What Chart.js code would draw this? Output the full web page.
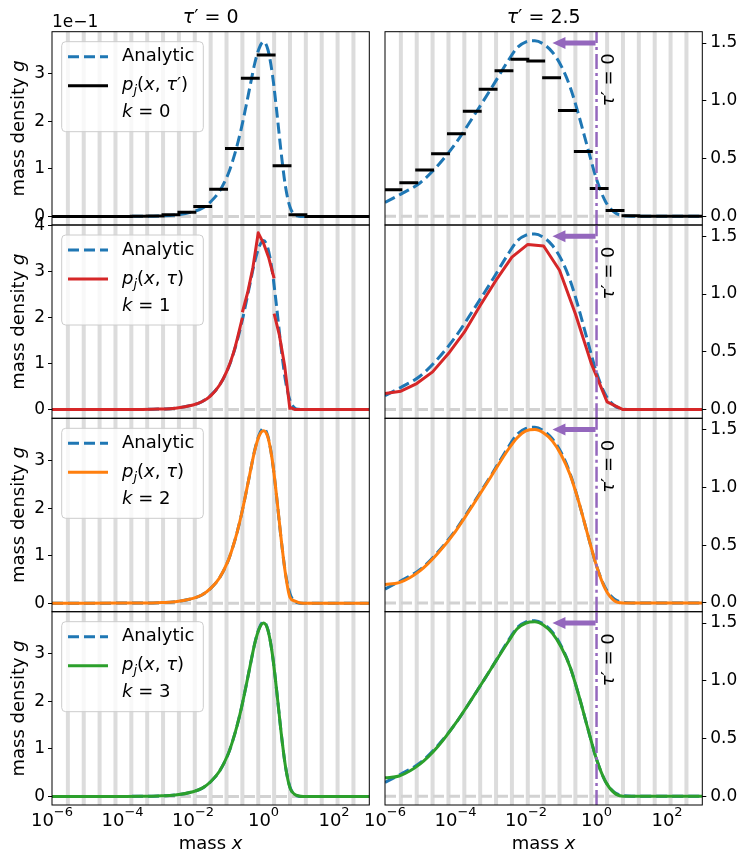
<!DOCTYPE html>
<html>
<head>
<meta charset="utf-8">
<script src="https://cdn.jsdelivr.net/npm/chart.js@4.4.1/dist/chart.umd.min.js"></script>
<style>
  html, body { margin: 0; padding: 0; background: #fff; }
  #wrap { position: relative; width: 748px; height: 863px; }
  #wrap canvas { position: absolute; left: 0; top: 0; }
</style>
</head>
<body>
<div id="wrap"></div>
<script>
// ---- data (x given as log10 of mass) ----
const binEdgeExp = [-6, -5.55, -5.1, -4.65, -4.2, -3.75, -3.3, -2.85, -2.4, -1.95, -1.5,
                    -1.05, -0.6, -0.15, 0.3, 0.75, 1.2, 1.65, 2.1, 2.55, 3];

// tau' = 0 (left column, units of 1e-1)
const binInit = [0, 0, 0, 0, 0.001, 0.003, 0.01, 0.035, 0.09, 0.21, 0.575,
                 1.43, 2.91, 3.40, 1.07, 0.035, 0, 0, 0, 0];
const analyticInitExp = [-6, -5, -4, -3.5, -3, -2.5, -2, -1.75, -1.5, -1.25, -1, -0.875, -0.75, -0.625,
                         -0.5, -0.375, -0.25, -0.125, 0, 0.125, 0.25, 0.375, 0.5, 0.625, 0.75, 0.875,
                         1, 1.125, 1.5, 2, 3];
const analyticInit = [0, 0.0001, 0.001, 0.003, 0.01, 0.03, 0.10, 0.17, 0.31, 0.53, 0.90, 1.17, 1.49, 1.87,
                      2.31, 2.77, 3.22, 3.54, 3.68, 3.51, 3.00, 2.21, 1.34, 0.62, 0.20, 0.04,
                      0.005, 0, 0, 0, 0];
// k = 1, smooth part left of the peak
const k1InitLowExp = [-6, -5, -4, -3.5, -3, -2.5, -2, -1.75, -1.5, -1.25, -1.05, -0.85, -0.6];
const k1InitLow = [0, 0, 0.001, 0.003, 0.01, 0.03, 0.10, 0.17, 0.30, 0.53, 0.82, 1.24, 2.00];
// k = 1, bins around the peak (null = jump at a bin edge)
const k1InitPeakExp = [-0.6, -0.45, -0.3, -0.15, 0, 0.15, 0.3, 0.3, 0.3, 0.45, 0.6, 0.75, 0.75, 0.75, 0.9, 1.2, 3];
const k1InitPeak = [2.12, 2.55, 3.10, 3.85, 3.62, 3.30, 2.86, null, 2.09, 1.62, 0.95, 0.0, null, 0.05, 0.0, 0, 0];
const k2Init = [0, 0, 0.001, 0.003, 0.01, 0.03, 0.10, 0.17, 0.31, 0.53, 0.90, 1.17, 1.49, 1.87,
                2.31, 2.77, 3.21, 3.52, 3.63, 3.49, 3.00, 2.22, 1.35, 0.60, 0.12, 0.05,
                0.01, 0, 0, 0, 0];
const k3Init = [0, 0, 0.001, 0.003, 0.01, 0.03, 0.10, 0.17, 0.31, 0.53, 0.90, 1.17, 1.49, 1.87,
                2.31, 2.77, 3.22, 3.53, 3.65, 3.50, 3.00, 2.21, 1.34, 0.62, 0.18, 0.05,
                0.01, 0, 0, 0, 0];

// tau' = 2.5 (right column)
const binTau = [0.23, 0.29, 0.40, 0.54, 0.715, 0.91, 1.10, 1.26, 1.36, 1.345, 1.20,
                0.915, 0.56, 0.24, 0.05, 0.005, 0, 0, 0, 0];
const tauExp = [-6, -5.5, -5, -4.5, -4, -3.5, -3, -2.5, -2.25, -2, -1.75, -1.5, -1.25, -1,
                -0.75, -0.5, -0.25, 0, 0.25, 0.5, 0.75, 1, 3];
const analyticTau = [0.12, 0.20, 0.29, 0.44, 0.63, 0.86, 1.10, 1.35, 1.46, 1.51, 1.52, 1.49, 1.42, 1.30,
                     1.12, 0.87, 0.59, 0.32, 0.13, 0.035, 0.005, 0, 0];
const k1TauExp = [-6, -5.55, -5.1, -4.65, -4.2, -3.75, -3.3, -2.85, -2.4, -1.95, -1.5,
                  -1.05, -0.6, -0.15, 0.3, 0.75, 3];
const k1Tau = [0.138, 0.159, 0.225, 0.326, 0.485, 0.67, 0.90, 1.12, 1.32, 1.43, 1.416,
               1.206, 0.83, 0.40, 0.066, 0, 0];
const k2TauExp = [-6, -5.6, -5, -4.5, -4, -3.5, -3, -2.5, -2.25, -2, -1.75, -1.5, -1.25, -1,
                  -0.75, -0.5, -0.25, 0, 0.25, 0.5, 0.75, 1, 3];
const k2Tau = [0.16, 0.175, 0.28, 0.43, 0.62, 0.85, 1.09, 1.33, 1.43, 1.49, 1.50, 1.47, 1.40, 1.28,
               1.11, 0.87, 0.59, 0.32, 0.12, 0.02, 0, 0, 0];
const k3Tau = [0.16, 0.175, 0.28, 0.43, 0.63, 0.86, 1.10, 1.34, 1.45, 1.50, 1.51, 1.48, 1.41, 1.29,
               1.12, 0.87, 0.59, 0.32, 0.13, 0.03, 0, 0, 0];

// ticks and limits
const xTickExp = [-6, -4, -2, 0, 2];
const yTicksInit = [0, 1, 2, 3];
const yTicksInitK1 = [0, 1, 2, 3, 4];
const yTicksTau = [0, 0.5, 1, 1.5];
const yLimInit = [-0.18, 3.89];
const yLimInitK1 = [-0.19, 4.02];
const yLimTau = [-0.076, 1.598];
const arrowLevel = 1.5, arrowTailExp = 0, arrowTipExp = -1.25;

// ---- layout ----
const W = 748, H = 863;
const colL = [52, 385], colR = [369.3, 702.3];
const rowTop = [31.7, 225, 418.3, 611.7], rowBot = [225, 418.3, 611.7, 805];
const numColors = ['#000000', '#d62728', '#ff7f0e', '#2ca02c'];
const blue = '#1f77b4', purple = '#9467bd';
const FONT = '"DejaVu Sans"';

function pts(exps, vals) {
  return exps.map((e, i) => ({ x: Math.pow(10, e), y: vals[i] }));
}

function steps(vals) {
  const out = [];
  vals.forEach((v, k) => {
    out.push({ x: Math.pow(10, binEdgeExp[k]), y: v });
    out.push({ x: Math.pow(10, binEdgeExp[k + 1]), y: v });
    out.push({ x: Math.pow(10, binEdgeExp[k + 1]), y: null });
  });
  return out;
}

function richText(ctx, parts, x, y, size, align) {
  const font = st => ((st === 'i' || st === 's') ? 'italic ' : '') +
    ((st === 's' || st === 'u') ? Math.round(size * 0.72) : size) + 'px ' + FONT;
  let w = 0;
  parts.forEach(p => { ctx.font = font(p[1]); w += ctx.measureText(p[0]).width; });
  let cx = align === 'center' ? x - w / 2 : x;
  ctx.textAlign = 'left';
  ctx.textBaseline = 'middle';
  parts.forEach(p => {
    ctx.font = font(p[1]);
    const dy = p[1] === 's' ? size * 0.3 : (p[1] === 'u' ? -size * 0.45 : 0);
    ctx.fillText(p[0], cx, y + dy);
    cx += ctx.measureText(p[0]).width;
  });
}

function drawLegend(ctx, top, row) {
  const x0 = 61.7, x1 = 203.3, y0 = top + 10, y1 = top + 100;
  ctx.save();
  ctx.beginPath();
  ctx.roundRect(x0, y0, x1 - x0, y1 - y0, 4);
  ctx.fillStyle = 'rgba(255,255,255,0.8)';
  ctx.fill();
  ctx.strokeStyle = '#cccccc';
  ctx.lineWidth = 1;
  ctx.stroke();
  // handles
  ctx.lineWidth = 3;
  ctx.strokeStyle = blue;
  ctx.setLineDash([11, 5]);
  ctx.beginPath(); ctx.moveTo(68, top + 25); ctx.lineTo(108, top + 25); ctx.stroke();
  ctx.setLineDash([]);
  ctx.strokeStyle = numColors[row];
  ctx.beginPath(); ctx.moveTo(68, top + 54); ctx.lineTo(108, top + 54); ctx.stroke();
  // texts
  ctx.fillStyle = '#000';
  richText(ctx, [['Analytic', 'n']], 122, top + 25, 18, 'left');
  const eq = [['p', 'i'], ['j', 's'], ['(', 'n'], ['x', 'i'], [', ', 'n'], ['τ', 'i']];
  if (row === 0) eq.push(['′', 'n']);
  eq.push([')', 'n']);
  richText(ctx, eq, 122, top + 54, 18, 'left');
  richText(ctx, [['k', 'i'], [' = ' + row, 'n']], 122, top + 81, 18, 'left');
  ctx.restore();
}

function makePanel(row, col) {
  const canvas = document.createElement('canvas');
  canvas.width = W;
  canvas.height = H;
  document.getElementById('wrap').appendChild(canvas);

  const yLim = col === 1 ? yLimTau : (row === 1 ? yLimInitK1 : yLimInit);
  const yTicks = col === 1 ? yTicksTau : (row === 1 ? yTicksInitK1 : yTicksInit);
  const color = numColors[row];
  const datasets = [];
  const line = (data, c, extra) => Object.assign({
    data: data, borderColor: c, borderWidth: 3, pointRadius: 0, fill: false,
    spanGaps: false, borderJoinStyle: 'round', tension: 0
  }, extra || {});

  if (col === 1) {
    datasets.push(line([{ x: 1, y: yLim[0] }, { x: 1, y: yLim[1] }], purple,
      { borderWidth: 2.5, borderDash: [15, 4, 3, 4] }));
  }
  // numerical solution
  if (row === 0) {
    datasets.push(line(steps(col === 0 ? binInit : binTau), '#000', { borderCapStyle: 'square' }));
  } else if (col === 0) {
    if (row === 1) {
      datasets.push(line(pts(k1InitLowExp, k1InitLow), color, { cubicInterpolationMode: 'monotone' }));
      datasets.push(line(pts(k1InitPeakExp, k1InitPeak), color));
    } else {
      datasets.push(line(pts(analyticInitExp, row === 2 ? k2Init : k3Init), color,
        { cubicInterpolationMode: 'monotone' }));
    }
  } else {
    if (row === 1) datasets.push(line(pts(k1TauExp, k1Tau), color));
    else datasets.push(line(pts(k2TauExp, row === 2 ? k2Tau : k3Tau), color,
      { cubicInterpolationMode: 'monotone' }));
  }
  // analytic
  datasets.push(line(col === 0 ? pts(analyticInitExp, analyticInit) : pts(tauExp, analyticTau), blue,
    { borderDash: [11, 5], cubicInterpolationMode: 'monotone', borderCapStyle: 'butt' }));
  // zero level
  datasets.push(line([{ x: 1e-6, y: 0 }, { x: 1e3, y: 0 }], '#d2d2d2', { borderDash: [11, 5] }));

  const yW = col === 0 ? 40 : 45;
  const deco = {
    id: 'deco',
    beforeDatasetsDraw(chart) {
      const { ctx, chartArea: a } = chart;
      const xs = chart.scales.x;
      ctx.save();
      ctx.fillStyle = 'rgba(128,128,128,0.28)';
      binEdgeExp.slice(1, -1).forEach(e => {
        const px = xs.getPixelForValue(Math.pow(10, e));
        ctx.fillRect(px - 2, a.top, 4, a.bottom - a.top);
      });
      ctx.restore();
    },
    afterDatasetsDraw(chart) {
      const { ctx, chartArea: a } = chart;
      const xs = chart.scales.x, ys = chart.scales.y;
      ctx.save();
      if (col === 1) {
        const yp = ys.getPixelForValue(arrowLevel);
        const xTail = xs.getPixelForValue(Math.pow(10, arrowTailExp));
        const xTip = xs.getPixelForValue(Math.pow(10, arrowTipExp));
        ctx.strokeStyle = purple;
        ctx.fillStyle = purple;
        ctx.lineWidth = 5;
        ctx.beginPath(); ctx.moveTo(xTail - 1, yp); ctx.lineTo(xTip + 11, yp); ctx.stroke();
        ctx.beginPath();
        ctx.moveTo(xTip, yp); ctx.lineTo(xTip + 13, yp - 6); ctx.lineTo(xTip + 13, yp + 6);
        ctx.closePath(); ctx.fill();
        ctx.save();
        ctx.translate(xTail + 13, a.top + 48);
        ctx.rotate(-Math.PI / 2);
        ctx.fillStyle = '#000';
        richText(ctx, [['τ', 'i'], ['′', 'n'], [' = 0', 'n']], 0, 0, 18, 'center');
        ctx.restore();
      }
      // frame
      ctx.strokeStyle = '#000';
      ctx.lineWidth = 1;
      ctx.strokeRect(a.left, a.top, a.right - a.left, a.bottom - a.top);
      if (col === 0) drawLegend(ctx, a.top, row);
      ctx.restore();
    },
    afterDraw(chart) {
      const { ctx, chartArea: a } = chart;
      const xs = chart.scales.x;
      const cx = (a.left + a.right) / 2;
      ctx.save();
      ctx.fillStyle = '#000';
      if (row === 0) {
        richText(ctx, [['τ', 'i'], ['′', 'n'], [col === 0 ? ' = 0' : ' = 2.5', 'n']], cx, 18, 19, 'center');
        if (col === 0) richText(ctx, [['1e−1', 'n']], a.left, 22.5, 17, 'left');
      }
      if (col === 0) {
        ctx.save();
        ctx.translate(19, (a.top + a.bottom) / 2);
        ctx.rotate(-Math.PI / 2);
        richText(ctx, [['mass density ', 'n'], ['g', 'i']], 0, 0, 18, 'center');
        ctx.restore();
      }
      if (row === 3) {
        xTickExp.forEach(e => {
          const px = xs.getPixelForValue(Math.pow(10, e));
          const ex = e < 0 ? '−' + Math.abs(e) : String(e);
          richText(ctx, [['10', 'n'], [ex, 'u']], px, 821, 18, 'center');
        });
        richText(ctx, [['mass ', 'n'], ['x', 'i']], cx, 844, 18, 'center');
      }
      ctx.restore();
    }
  };

  new Chart(canvas, {
    type: 'line',
    data: { datasets: datasets },
    options: {
      responsive: false,
      animation: false,
      events: [],
      devicePixelRatio: 1,
      layout: {
        padding: {
          left: col === 0 ? colL[0] - yW : colL[1],
          right: col === 0 ? W - colR[0] : W - colR[1] - yW,
          top: rowTop[row],
          bottom: H - rowBot[row]
        }
      },
      scales: {
        x: { type: 'logarithmic', min: 1e-6, max: 1e3, display: false },
        y: {
          type: 'linear',
          position: col === 0 ? 'left' : 'right',
          min: yLim[0],
          max: yLim[1],
          afterFit: s => { s.width = yW; },
          afterBuildTicks: s => { s.ticks = yTicks.map(v => ({ value: v })); },
          ticks: {
            font: { family: 'DejaVu Sans', size: 17 },
            color: '#000',
            padding: col === 0 ? 3 : 4,
            callback: v => (col === 0 ? String(v) : Number(v).toFixed(1))
          },
          grid: { drawOnChartArea: false, drawTicks: true, tickLength: 4, color: '#000', lineWidth: 1 },
          border: { display: false }
        }
      },
      plugins: { legend: { display: false }, tooltip: { enabled: false } }
    },
    plugins: [deco]
  });
}

for (let r = 0; r < 4; r++) {
  makePanel(r, 0);
  makePanel(r, 1);
}
</script>
</body>
</html>
